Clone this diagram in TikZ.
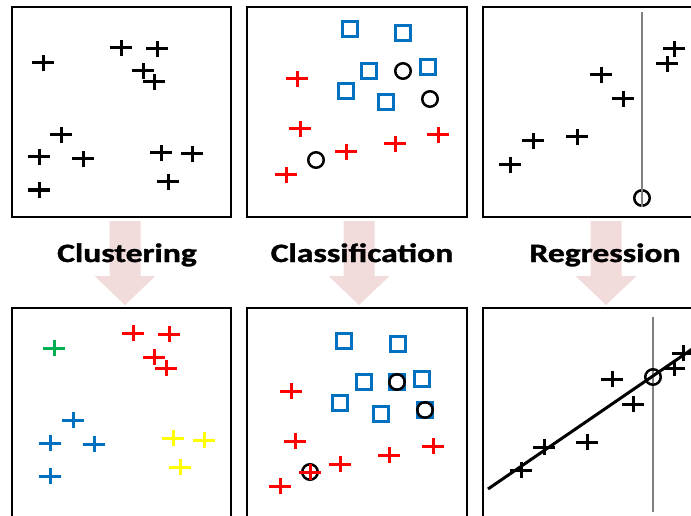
\documentclass[tikz,border=0pt]{standalone}
\usepackage{fontspec}
\newfontfamily\headfont{Carlito}[BoldFeatures={FakeBold=1.2}]
\usetikzlibrary{shapes.misc}

\definecolor{ptblue}{HTML}{0070C0}
\definecolor{ptred}{HTML}{FF0000}
\definecolor{ptgreen}{HTML}{00B050}
\definecolor{ptyellow}{HTML}{FFFF00}
\definecolor{flowpink}{HTML}{F2DCDB}

\tikzset{
  pt/.style={cross out, draw, xscale=1.29, rotate=45, minimum size=12pt, inner sep=0pt, outer sep=0pt, line width=3pt},
  sq/.style={rectangle, draw=ptblue, minimum size=15.6pt, inner sep=0pt, line width=2.8pt},
  ring/.style={circle, draw, minimum size=15.5pt, inner sep=0pt, line width=2.5pt},
  panel/.style={draw, line width=2.4pt},
  guide/.style={draw=gray, line width=1.2pt},
  title/.style={font=\headfont\bfseries\fontsize{26.5}{30}\selectfont, anchor=base, xscale=1.27, transform shape},
  pics/down/.style={code={
    \fill[flowpink] (-15.5,0) -- (15.5,0) -- (15.5,55) -- (30.5,55) -- (0,84) -- (-30.5,55) -- (-15.5,55) -- cycle;}}
}

\begin{document}
\begin{tikzpicture}[x=1pt,y=-1pt]

        \useasboundingbox (0,0) rectangle (691,516);
        \clip (0,0) rectangle (691,516);

        % the six panels
        \draw[panel] (12,7) rectangle (231,217);
        \draw[panel] (247,7) rectangle (467,217);
        \draw[panel] (483,7) rectangle (720,217);
        \draw[panel] (12,308) rectangle (231,540);
        \draw[panel] (247,308) rectangle (467,540);
        \draw[panel] (483,308) rectangle (720,540);

        % block arrows with the titles on top
        \pic at (125,221) {down};
        \pic at (359,221) {down};
        \pic at (606,221) {down};
        \node[title] (clu) at (127,262) {Clustering};
        \node[title] (cla) at (362,262) {Classification};
        \node[title] (reg) at (605,262) {Regression};

        % raw data, unlabelled
        \begin{scope}[every node/.style={pt}]
          \node (a1)  at (43,63)   {};
          \node (a2)  at (121,48)  {};
          \node (a3)  at (157,49)  {};
          \node (a4)  at (143,71)  {};
          \node (a5)  at (154,82)  {};
          \node (a6)  at (61,135)  {};
          \node (a7)  at (39,157)  {};
          \node (a8)  at (83,159)  {};
          \node (a9)  at (161,153) {};
          \node (a10) at (192,154) {};
          \node (a11) at (168,182) {};
          \node (a12) at (39,190)  {};
        \end{scope}

        % raw data, two classes and three queries
        \begin{scope}[every node/.style={sq}]
          \node (b1) at (350,29)  {};
          \node (b2) at (403,33)  {};
          \node (b3) at (369,71)  {};
          \node (b4) at (428,67)  {};
          \node (b5) at (346,91)  {};
          \node (b6) at (386,102) {};
        \end{scope}
        \begin{scope}[every node/.style={pt, draw=ptred}]
          \node (b7)  at (297,79)  {};
          \node (b8)  at (300,129) {};
          \node (b9)  at (286,175) {};
          \node (b10) at (346,152) {};
          \node (b11) at (395,144) {};
          \node (b12) at (438,135) {};
        \end{scope}
        \begin{scope}[every node/.style={ring}]
          \node (b13) at (403,71)  {};
          \node (b14) at (430,99)  {};
          \node (b15) at (316,160) {};
        \end{scope}

        % raw data, one query position
        \begin{scope}[every node/.style={pt}]
          \node (c1) at (674,49)  {};
          \node (c2) at (667,64)  {};
          \node (c3) at (601,75)  {};
          \node (c4) at (623,99)  {};
          \node (c5) at (577,137) {};
          \node (c6) at (533,141) {};
          \node (c7) at (510,165) {};
        \end{scope}
        \node[ring] (c8) at (642,198) {};
        \coordinate (c9) at (642,12);
        \draw[guide] (c9) -- (c8.south);

        % clusters found
        \begin{scope}[every node/.style={pt}]
          \node[draw=ptgreen]  (d1)  at (54,348)  {};
          \node[draw=ptred]    (d2)  at (133,333) {};
          \node[draw=ptred]    (d3)  at (169,334) {};
          \node[draw=ptred]    (d4)  at (154,357) {};
          \node[draw=ptred]    (d5)  at (166,368) {};
          \node[draw=ptblue]   (d6)  at (73,420)  {};
          \node[draw=ptblue]   (d7)  at (50,443)  {};
          \node[draw=ptblue]   (d8)  at (94,444)  {};
          \node[draw=ptblue]   (d9)  at (50,476)  {};
          \node[draw=ptyellow] (d10) at (173,438) {};
          \node[draw=ptyellow] (d11) at (204,440) {};
          \node[draw=ptyellow] (d12) at (180,467) {};
        \end{scope}

        % queries assigned to a class
        \begin{scope}[every node/.style={sq}]
          \node (e1) at (344,341) {};
          \node (e2) at (398,344) {};
          \node (e3) at (364,382) {};
          \node (e4) at (397,382) {};
          \node (e5) at (422,379) {};
          \node (e6) at (340,403) {};
          \node (e7) at (381,414) {};
          \node (e8) at (425,410) {};
        \end{scope}
        \begin{scope}[every node/.style={ring}]
          \node (e9)  at (397,382) {};
          \node (e10) at (425,410) {};
          \node (e11) at (310,472) {};
        \end{scope}
        \begin{scope}[every node/.style={pt, draw=ptred}]
          \node (e12) at (291,391) {};
          \node (e13) at (295,441) {};
          \node (e14) at (280,486) {};
          \node (e15) at (340,464) {};
          \node (e16) at (389,455) {};
          \node (e17) at (433,446) {};
          \node (e18) at (310,472) {};
        \end{scope}

        % fitted line
        \coordinate (f1) at (488,489);
        \coordinate (f2) at (720,330);
        \coordinate (f3) at (653,317);
        \coordinate (f4) at (653,512);
        \draw[guide] (f3) -- (f4);
        \draw[line width=3pt] (f1) -- (f2);
        \begin{scope}[every node/.style={pt}]
          \node (f5)  at (521,470) {};
          \node (f6)  at (544,447) {};
          \node (f7)  at (587,442) {};
          \node (f8)  at (612,379) {};
          \node (f9)  at (633,404) {};
          \node (f10) at (674,368) {};
          \node (f11) at (683,353) {};
        \end{scope}
        \node[ring] (f12) at (653,377) {};

      \end{tikzpicture}
\end{document}
